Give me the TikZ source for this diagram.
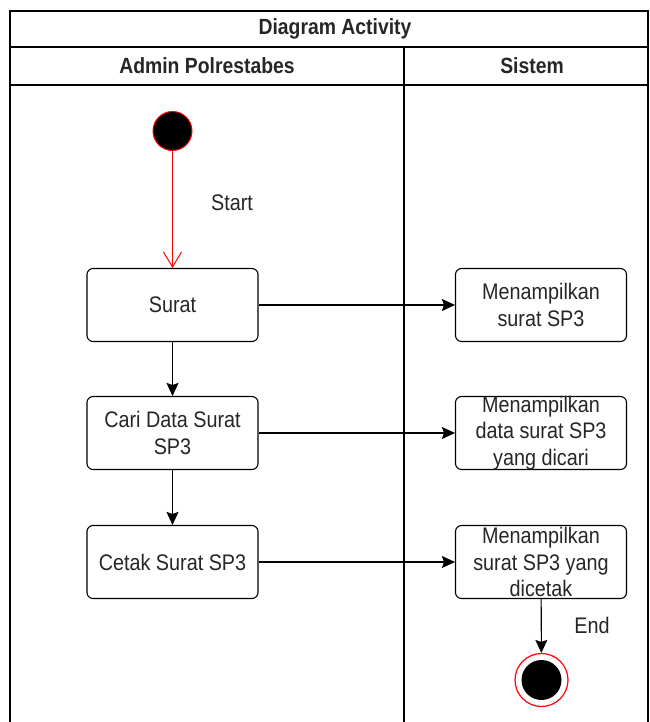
\documentclass[tikz,border=0pt]{standalone}
\usepackage{fontspec}
\setmainfont{Liberation Sans}[FakeStretch=0.88]
\usetikzlibrary{arrows.meta}
\begin{document}
\begin{tikzpicture}[x=1pt,y=-1pt,
  act/.style={draw, rounded corners=6pt, line width=1.1pt, minimum width=171pt, minimum height=73pt, inner sep=0pt},
  acttext/.style={align=center, font=\fontsize{22.5}{26.5}\selectfont, text=black!85, inner sep=0pt},
  hdr/.style={font=\bfseries\fontsize{22}{26}\selectfont, text=black!85},
  lbl/.style={font=\fontsize{22.5}{26}\selectfont, text=black!85},
  flow/.style={draw, line width=1.1pt, -{Stealth[length=13pt,width=12pt,inset=2pt]}}]
\useasboundingbox (0,0) rectangle (649,722);
% frame
\draw[line width=1.1pt] (10,722) -- (10,11) -- (648,11) -- (648,722);
\draw[line width=1.1pt] (10,47) -- (648,47);
\draw[line width=1.1pt] (10,85) -- (648,85);
\draw[line width=1.1pt] (404,47) -- (404,722);
\node[hdr] (title) at (335,29) {Diagram Activity};
\node[hdr] (lane1) at (207,66) {Admin Polrestabes};
\node[hdr] (lane2) at (532,66) {Sistem};
% start
\node[circle, fill=black, draw=red, line width=1pt, minimum size=39pt, inner sep=0pt] (start) at (172.5,131) {};
\node[act, label={[acttext]center:Surat}] (surat) at (172.5,305) {};
\node[act, label={[acttext]center:{Cari Data Surat\\SP3}}] (cari) at (172.5,433) {};
\node[act, label={[acttext]center:{Cetak Surat SP3}}] (cetak) at (172.5,562) {};
\node[act, label={[acttext]center:{Menampilkan\\surat SP3}}] (m1) at (541,305) {};
\node[act, label={[acttext]center:{Menampilkan\\data surat SP3\\yang dicari}}] (m2) at (541,433) {};
\node[act, label={[acttext]center:{Menampilkan\\surat SP3 yang\\dicetak}}] (m3) at (541,562) {};
\node[circle, draw=red, fill=white, line width=1.2pt, minimum size=53pt, inner sep=0pt] (endo) at (541.5,680) {};
\node[circle, fill=black, minimum size=40pt, inner sep=0pt] (endi) at (endo) {};
\node[lbl] (startlbl) at (232,203) {Start};
\node[lbl] (endlbl) at (592,625) {End};
% connectors
\draw[red, line width=1pt, -{Straight Barb[length=15pt,width=18pt]}] (start) -- (surat);
\draw[flow] (surat) -- (m1);
\draw[flow] (cari) -- (m2);
\draw[flow] (cetak) -- (m3);
\draw[flow] (surat) -- (cari);
\draw[flow] (cari) -- (cetak);
\draw[flow] (m3) -- (endo);
\end{tikzpicture}
\end{document}
